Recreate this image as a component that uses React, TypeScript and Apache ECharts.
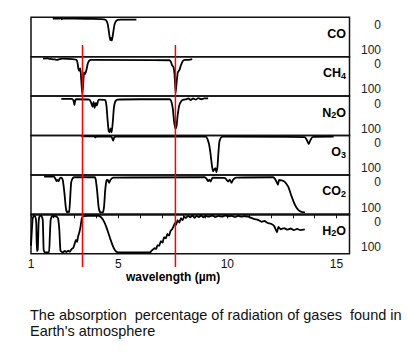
import React, { useEffect, useRef } from 'react';
import * as echarts from 'echarts';

// Absorption (%) vs wavelength (µm)
const coData: number[][] = [
  [2.0, 3], [2.3, 3], [2.38, 2], [2.41, 5], [2.45, 3], [3.0, 3], [3.8, 4], [4.35, 5], [4.45, 8], [4.52, 18],
  [4.58, 40], [4.63, 58], [4.67, 52], [4.71, 59], [4.76, 42], [4.83, 18], [4.92, 8], [5.1, 6], [5.5, 6], [5.83, 6],
];
const ch4Data: number[][] = [
  [1.55, 5], [1.75, 4], [1.95, 6], [2.1, 7], [2.2, 8], [2.32, 6], [2.45, 5], [2.9, 6], [3.08, 8], [3.13, 15],
  [3.17, 30], [3.21, 36], [3.26, 30], [3.3, 55], [3.35, 96], [3.39, 72], [3.43, 40], [3.48, 44], [3.54, 34],
  [3.6, 18], [3.67, 10], [3.75, 8], [7.36, 9], [7.42, 14], [7.47, 22], [7.53, 26], [7.58, 45], [7.63, 92],
  [7.68, 62], [7.73, 40], [7.8, 34], [7.87, 22], [7.96, 11], [8.05, 8], [8.25, 8], [8.39, 6],
];
const n2oData: number[][] = [
  [2.39, 7], [2.85, 7], [2.94, 10], [2.99, 23], [3.03, 10], [3.1, 8], [3.68, 9], [3.76, 17], [3.82, 27],
  [3.87, 15], [3.92, 30], [3.97, 17], [4.02, 24], [4.08, 11], [4.15, 9], [4.4, 10], [4.46, 25], [4.51, 60],
  [4.56, 88], [4.61, 92], [4.65, 82], [4.7, 92], [4.75, 65], [4.8, 30], [4.86, 14], [4.96, 9], [6.0, 8],
  [7.36, 8], [7.43, 13], [7.5, 32], [7.56, 65], [7.62, 83], [7.67, 77], [7.72, 50], [7.79, 25], [7.9, 12],
  [8.0, 9], [8.12, 8], [8.22, 6], [8.32, 10], [8.43, 6], [8.55, 9], [8.67, 5], [8.8, 8], [8.95, 6], [9.12, 6],
];
const o3Data: number[][] = [
  [3.31, 2], [3.9, 2], [3.95, 5], [4.0, 2], [4.68, 3], [4.73, 8], [4.77, 13], [4.81, 5], [4.9, 3], [9.0, 3],
  [9.08, 8], [9.16, 22], [9.22, 42], [9.28, 70], [9.34, 91], [9.4, 86], [9.45, 83], [9.5, 93], [9.55, 78],
  [9.59, 45], [9.63, 18], [9.7, 6], [9.8, 3], [13.55, 4], [13.65, 12], [13.73, 22], [13.8, 13], [13.9, 4],
  [14.87, 3],
];
const co2Data: number[][] = [
  [1.6, 4], [2.05, 4], [2.12, 10], [2.17, 16], [2.22, 13], [2.27, 16], [2.33, 8], [2.4, 7], [2.46, 14],
  [2.53, 45], [2.6, 85], [2.66, 95], [2.71, 93], [2.75, 95], [2.79, 65], [2.84, 20], [2.92, 8], [3.0, 6],
  [3.92, 6], [3.97, 13], [4.03, 40], [4.1, 82], [4.17, 95], [4.3, 95], [4.35, 80], [4.4, 40], [4.46, 14],
  [4.52, 13], [4.58, 20], [4.64, 13], [4.76, 7], [8.97, 6], [9.05, 10], [9.12, 16], [9.18, 12], [9.24, 17],
  [9.32, 7], [9.9, 8], [9.97, 13], [10.04, 17], [10.11, 12], [10.19, 20], [10.27, 12], [10.4, 7], [12.1, 6],
  [12.18, 10], [12.25, 17], [12.32, 25], [12.37, 13], [12.48, 14], [12.62, 17], [12.79, 30], [12.95, 55],
  [13.1, 76], [13.25, 89], [13.4, 94], [13.56, 95],
];
const h2oData: number[][] = [
  [1.0, 80], [1.04, 40], [1.08, 10], [1.13, 4], [1.19, 5], [1.24, 20], [1.27, 93], [1.31, 90], [1.35, 20],
  [1.39, 5], [1.48, 4], [1.54, 15], [1.58, 90], [1.63, 97], [1.82, 97], [1.86, 60], [1.9, 15], [1.96, 5],
  [2.15, 5], [2.24, 10], [2.3, 40], [2.35, 92], [2.45, 97], [2.55, 93], [2.62, 96], [2.7, 92], [2.78, 95],
  [2.86, 88], [2.94, 85], [3.0, 75], [3.06, 65], [3.11, 70], [3.16, 56], [3.22, 45], [3.28, 28], [3.33, 10],
  [3.4, 5], [3.6, 4], [4.1, 4], [4.2, 7], [4.28, 12], [4.36, 20], [4.45, 32], [4.55, 48], [4.65, 65],
  [4.75, 80], [4.85, 91], [4.95, 96], [5.1, 97], [6.45, 97], [6.52, 93], [6.6, 89], [6.67, 86], [6.74, 88],
  [6.8, 78], [6.88, 80], [6.95, 68], [7.03, 72], [7.1, 58], [7.18, 61], [7.25, 50], [7.33, 54], [7.4, 42],
  [7.47, 38], [7.53, 31], [7.6, 22], [7.65, 27], [7.72, 15], [7.8, 21], [7.87, 10], [7.95, 15], [8.02, 6],
  [8.1, 9], [8.2, 4], [8.3, 8], [8.4, 3], [8.5, 9], [8.6, 4], [8.7, 7], [8.8, 3], [8.9, 8], [9.0, 4],
  [9.15, 6], [9.3, 3], [9.45, 7], [9.6, 4], [9.75, 6], [9.9, 3], [10.05, 5], [10.2, 4], [10.35, 7], [10.5, 4],
  [10.65, 6], [10.8, 5], [10.95, 6], [11.1, 9], [11.25, 12], [11.4, 14], [11.57, 19], [11.7, 17], [11.85, 22],
  [12.0, 24], [12.15, 30], [12.28, 46], [12.34, 32], [12.45, 38], [12.6, 35], [12.75, 39], [12.9, 36],
  [13.05, 40], [13.2, 37], [13.35, 40], [13.55, 38],
];

const gasSeries = [coData, ch4Data, n2oData, o3Data, co2Data, h2oData];
const gasNames = ['CO', 'CH4', 'N2O', 'O3', 'CO2', 'H2O'];
const gasLabels = ['{m|CO}', '{m|CH}{s|4}', '{m|N}{s|2}{m|O}', '{m|O}{s|3}', '{m|CO}{s|2}', '{m|H}{s|2}{m|O}'];
const xMin = 1;
const xMax = 15.6;
const xTickLabels = [1, 5, 10, 15];
const redLineWavelengths = [3.36, 7.62];
const scaleLabels = ['0', '100'];
const xAxisTitle = 'wavelength (\u00b5m)';
const captionLines = ['The absorption  percentage of radiation of gases  found in', "Earth's atmosphere"];

const FONT = '"Liberation Sans", Arial, Helvetica, sans-serif';

export default function App() {
  const ref = useRef<HTMLDivElement>(null);
  useEffect(() => {
    document.body.style.margin = '0';
    const chart = echarts.init(ref.current!, null, { renderer: 'svg' });
    const left = 31;
    const width = 318.5;
    const top0 = 17.3;
    const panelH = 39.4;
    const n = gasSeries.length;

    const grid = gasSeries.map((_, i) => ({
      left, width, top: top0 + i * panelH, height: panelH,
      show: true, borderColor: '#111', borderWidth: 1.5, backgroundColor: 'transparent',
    }));
    const xAxis = gasSeries.map((_, i) => ({
      gridIndex: i, type: 'value', min: xMin, max: xMax, interval: 1,
      show: i === n - 1,
      axisLine: { show: true, lineStyle: { color: '#111', width: 1.5 } },
      axisTick: { show: true, length: 4, inside: false, lineStyle: { color: '#111', width: 1 } },
      splitLine: { show: false },
      axisLabel: {
        show: true, margin: 4, fontSize: 12, color: '#111', fontFamily: FONT,
        showMaxLabel: false,
        formatter: (v: number) => (xTickLabels.includes(Math.round(v * 1000) / 1000) ? String(v) : ''),
      },
    }));
    const yAxis = gasSeries.map((_, i) => ({
      gridIndex: i, type: 'value', min: 0, max: 100, inverse: true, show: false,
    }));
    const series = gasSeries.map((d, i) => ({
      type: 'line', name: gasNames[i], xAxisIndex: i, yAxisIndex: i, data: d,
      symbol: 'none', smooth: 0.15, silent: true,
      lineStyle: { color: '#000', width: 1.8 },
    }));

    chart.setOption({
      animation: false,
      backgroundColor: '#fff',
      grid, xAxis, yAxis, series,
    });

    const graphic: any[] = [];
    gasSeries.forEach((_, i) => {
      const t = top0 + i * panelH;
      graphic.push({
        type: 'text', x: 346, y: t + 16.5, z: 50,
        style: {
          text: gasLabels[i], align: 'right', verticalAlign: 'middle', fill: '#000',
          rich: {
            m: { fontSize: 12.5, fontWeight: 'bold', fontFamily: FONT, lineHeight: 14, fill: '#000' },
            s: { fontSize: 9, fontWeight: 'bold', fontFamily: FONT, lineHeight: 8, verticalAlign: 'bottom', fill: '#000' },
          },
        },
      });
      graphic.push({
        type: 'text', x: 381, y: t + 7.5, z: 50,
        style: { text: scaleLabels[0], align: 'right', verticalAlign: 'middle', fill: '#222', font: `12px ${FONT}` },
      });
      graphic.push({
        type: 'text', x: 381, y: t + 32.7, z: 50,
        style: { text: scaleLabels[1], align: 'right', verticalAlign: 'middle', fill: '#222', font: `12px ${FONT}` },
      });
    });
    redLineWavelengths.forEach((w) => {
      const px = chart.convertToPixel({ xAxisIndex: n - 1 }, w) as number;
      graphic.push({
        type: 'line', z: 100,
        shape: { x1: px, y1: 45, x2: px, y2: 267 },
        style: { stroke: '#ff0000', lineWidth: 1.5 },
      });
    });
    graphic.push({
      type: 'text', x: 126, y: 276.5, z: 50,
      style: { text: xAxisTitle, align: 'left', verticalAlign: 'middle', fill: '#000', font: `bold 12px ${FONT}` },
    });
    captionLines.forEach((line, k) => {
      graphic.push({
        type: 'text', x: 30, y: 314.5 + k * 16, z: 50,
        style: { text: line, align: 'left', verticalAlign: 'middle', fill: '#111', font: `14.5px ${FONT}` },
      });
    });
    chart.setOption({ graphic });

    return () => chart.dispose();
  }, []);
  return <div ref={ref} style={{ width: 407, height: 360, background: '#fff' }} />;
}
